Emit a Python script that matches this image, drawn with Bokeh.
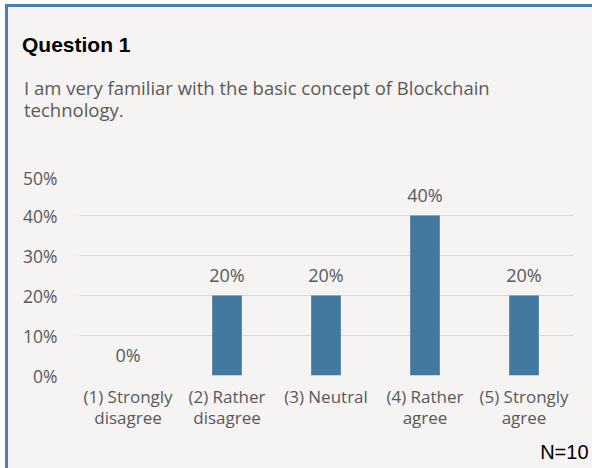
from bokeh.plotting import figure
from bokeh.layouts import column
from bokeh.models import ColumnDataSource, LabelSet, Title, Range1d, NumeralTickFormatter, FixedTicker, Div
from bokeh.core.properties import value
from bokeh.embed import file_html
from bokeh.resources import INLINE

categories = ["(1) Strongly\ndisagree", "(2) Rather\ndisagree", "(3) Neutral", "(4) Rather\nagree", "(5) Strongly\nagree"]
values = [0.0, 0.2, 0.2, 0.4, 0.2]
value_labels = ["0%", "20%", "20%", "40%", "20%"]
y_ticks = [0.0, 0.1, 0.2, 0.3, 0.4, 0.5]
title_text = "Question 1"
subtitle_lines = ["I am very familiar with the basic concept of Blockchain", "technology."]
n_text = "N=10"

BG = "#f5f4f2"
BAR = "#44799f"
TXT = "#595959"
EDGE = "#4a7fb0"

# ---- header: heading and question text
HW, HH = 584, 158
header_html = (
    f'<div style="position:relative;width:{HW}px;height:{HH}px;">'
    f'<div style="position:absolute;left:14px;top:26px;font-family:\'Liberation Sans\',Arial,sans-serif;'
    f'font-weight:bold;font-size:21px;line-height:24px;color:black;white-space:nowrap;">{title_text}</div>'
    f'<div style="position:absolute;left:16px;top:70px;font-family:\'Open Sans\',sans-serif;'
    f'font-size:18.5px;line-height:22px;color:{TXT};white-space:nowrap;">{"<br>".join(subtitle_lines)}</div>'
    '</div>'
)
h = Div(text=header_html, width=HW, height=HH, margin=0, styles={"background-color": BG})

# ---- chart
src = ColumnDataSource(dict(cat=categories, val=values, lab=value_labels))

p = figure(x_range=categories, y_range=Range1d(0, 0.5),
           frame_width=495, frame_height=200,
           min_border_left=70, min_border_right=19, min_border_top=10, min_border_bottom=93,
           output_backend="svg", toolbar_location=None)
p.title.visible = False
p.background_fill_color = BG
p.border_fill_color = BG
p.outline_line_color = None

p.vbar(x="cat", top="val", width=0.3, source=src, fill_color=BAR, line_color=None)

p.add_layout(LabelSet(x="cat", y="val", text="lab", source=src, y_offset=9,
                      text_align="center", text_baseline="bottom",
                      text_font=value("Open Sans"), text_font_size=value("18px"), text_color=TXT))

p.yaxis.ticker = FixedTicker(ticks=y_ticks)
p.yaxis.formatter = NumeralTickFormatter(format="0%")
for ax in (p.xaxis, p.yaxis):
    ax.axis_line_color = None
    ax.major_tick_line_color = None
    ax.minor_tick_line_color = None
    ax.major_label_text_font = "Open Sans"
    ax.major_label_text_color = TXT
p.yaxis.major_label_text_font_size = "17.5px"
p.xaxis.major_label_text_font_size = "17px"
p.xaxis.major_label_text_line_height = 0.95
p.yaxis.major_label_standoff = 15
p.xaxis.major_label_standoff = 3

p.xgrid.grid_line_color = None
p.ygrid.grid_line_color = "#d9d9d9"
p.ygrid.grid_line_width = 1

p.add_layout(Title(text=n_text, align="right", offset=-15, standoff=12,
                   text_font="Liberation Sans", text_font_size="20px", text_font_style="normal",
                   text_color="black"), "below")

layout = column(h, p, spacing=0)
layout.styles = {"margin-left": "5px", "margin-top": "4px",
                 "border-left": f"3px solid {EDGE}", "border-top": f"3px solid {EDGE}",
                 "background-color": BG}

open("out.html", "w").write(file_html(layout, INLINE))
